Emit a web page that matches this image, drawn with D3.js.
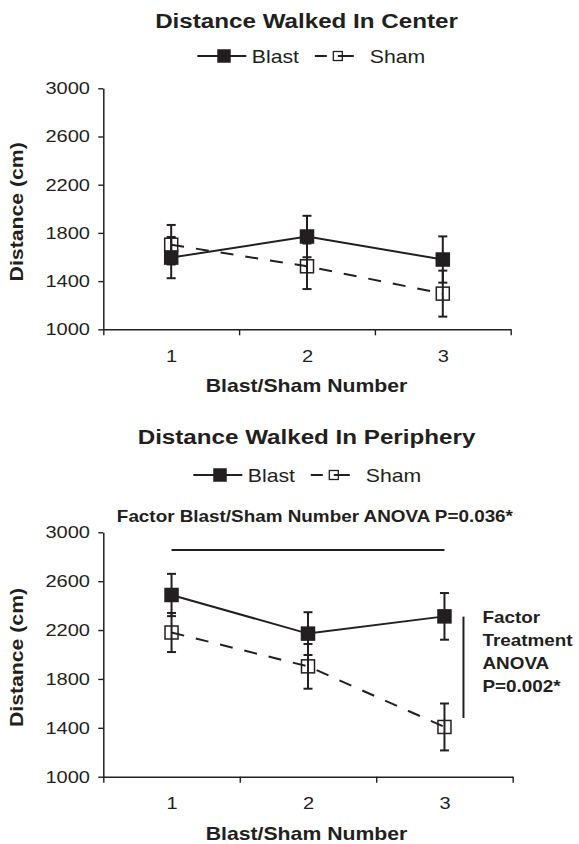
<!DOCTYPE html>
<html>
<head>
<meta charset="utf-8">
<script src="https://cdn.jsdelivr.net/npm/d3@7"></script>
<style>
  html, body { margin: 0; padding: 0; background: #fff; }
</style>
</head>
<body>
<div id="chart"></div>
<script>
// values (cm)
const sessions = [1, 2, 3];
const centerBlast = [1595, 1770, 1579];
const centerBlastErr = [171, 172, 192];
const centerSham = [1702, 1523, 1296];
const centerShamErr = [164, 189, 191];
const periphBlast = [2487, 2171, 2312];
const periphBlastErr = [173, 175, 191];
const periphSham = [2180, 1903, 1407];
const periphShamErr = [160, 183, 192];
const yTicks = [1000, 1400, 1800, 2200, 2600, 3000];
const seriesNames = ["Blast", "Sham"];
const sessionAnova = "Factor Blast/Sham Number ANOVA P=0.036*";
const sessionBarLevel = 2855;
const treatmentAnova = ["Factor", "Treatment", "ANOVA", "P=0.002*"];
const treatmentBarRange = [2310, 1480];

const INK = "#231f20";
const FONT = "'Liberation Sans', Arial, Helvetica, sans-serif";
const SX = 1.18; // the figure's type is a bit wider than Arial

const W = 579, H = 844;

const svg = d3.select("#chart").append("svg")
    .attr("width", W)
    .attr("height", H)
    .style("font-family", FONT);

svg.append("rect").attr("width", W).attr("height", H).attr("fill", "#fff");

function label(g, x, y, str, o = {}) {
    return g.append("text")
        .attr("transform", `translate(${x},${y})` + (o.rotate ? ` rotate(${o.rotate})` : "") + ` scale(${SX},1)`)
        .attr("text-anchor", o.anchor || "middle")
        .style("font-size", (o.size || 17) + "px")
        .style("font-weight", o.bold ? "bold" : "normal")
        .attr("fill", INK)
        .text(str);
}

const panels = [
    {
        title: "Distance Walked In Center",
        blast: centerBlast, blastErr: centerBlastErr,
        sham: centerSham, shamErr: centerShamErr,
        top: 88.3, bottom: 329.3, left: 103.3, right: 510.7,
        titleY: 28, legendY: 56, legendX: 197.3
    },
    {
        title: "Distance Walked In Periphery",
        blast: periphBlast, blastErr: periphBlastErr,
        sham: periphSham, shamErr: periphShamErr,
        top: 532.3, bottom: 776.7, left: 103.3, right: 512.7,
        titleY: 443.5, legendY: 475, legendX: 193.3,
        anova: true
    }
];

panels.forEach(p => {
    const g = svg.append("g");

    const x = d3.scaleLinear().domain([0.5, 3.5]).range([p.left, p.right]);
    const y = d3.scaleLinear().domain([1000, 3000]).range([p.bottom, p.top]);

    // title
    label(g, 306.5, p.titleY, p.title, {size: 20.5, bold: true});

    // legend
    const lg = g.append("g").attr("transform", `translate(${p.legendX},${p.legendY})`);
    lg.append("line").attr("x1", 0).attr("x2", 49).attr("y1", 0).attr("y2", 0)
        .attr("stroke", INK).attr("stroke-width", 2);
    lg.append("rect").attr("x", 26.7 - 6.75).attr("y", -6.75).attr("width", 13.5).attr("height", 13.5)
        .attr("fill", INK);
    label(lg, 54.5, 6.5, seriesNames[0], {size: 18, anchor: "start"});
    const sx0 = 117.5;
    lg.append("line").attr("x1", sx0).attr("x2", sx0 + 39).attr("y1", 0).attr("y2", 0)
        .attr("stroke", INK).attr("stroke-width", 2)
        .attr("stroke-dasharray", "12,11,16");
    lg.append("rect").attr("x", sx0 + 18.5).attr("y", -4.5).attr("width", 9).attr("height", 9)
        .attr("fill", "none").attr("stroke", INK).attr("stroke-width", 1.3);
    label(lg, sx0 + 55, 6.5, seriesNames[1], {size: 18, anchor: "start"});

    // y axis
    const ya = g.append("g")
        .attr("transform", `translate(${p.left},0)`)
        .call(d3.axisLeft(y).tickValues(yTicks).tickSize(5).tickSizeOuter(0).tickPadding(8).tickFormat(d3.format("d")));
    ya.select(".domain").attr("stroke", INK).attr("stroke-width", 1.5);
    ya.selectAll(".tick line").attr("stroke", INK).attr("stroke-width", 1.4);
    ya.selectAll(".tick text")
        .attr("x", -13.3 / SX)
        .attr("transform", `scale(${SX},1)`)
        .attr("fill", INK)
        .style("font-family", FONT)
        .style("font-size", "17px");

    // x axis: tick marks between sessions, labels under each session
    const xa = g.append("g")
        .attr("transform", `translate(0,${p.bottom})`)
        .call(d3.axisBottom(x).tickValues([0.5, 1.5, 2.5, 3.5]).tickSize(6).tickSizeOuter(0).tickFormat(""));
    xa.select(".domain").attr("stroke", INK).attr("stroke-width", 1.5);
    xa.selectAll(".tick line").attr("stroke", INK).attr("stroke-width", 1.4);

    const xl = g.append("g")
        .attr("transform", `translate(0,${p.bottom})`)
        .call(d3.axisBottom(x).tickValues(sessions).tickSize(0).tickPadding(20.5).tickFormat(d3.format("d")));
    xl.select(".domain").remove();
    xl.selectAll(".tick text")
        .attr("transform", `scale(${SX},1)`)
        .attr("fill", INK)
        .style("font-family", FONT)
        .style("font-size", "17px");

    // axis titles
    label(g, 306.5, p.bottom + 63, "Blast/Sham Number", {size: 18, bold: true});
    label(g, 22.5, (p.top + p.bottom) / 2 + 3, "Distance (cm)", {size: 18, bold: true, rotate: -90});

    // series lines
    const line = d3.line().x((d, i) => x(sessions[i])).y(d => y(d));
    g.append("path").datum(p.sham).attr("d", line)
        .attr("fill", "none").attr("stroke", INK).attr("stroke-width", 2)
        .attr("stroke-dasharray", "13,12");
    g.append("path").datum(p.blast).attr("d", line)
        .attr("fill", "none").attr("stroke", INK).attr("stroke-width", 2);

    // error bars
    function errorBars(vals, errs) {
        const cap = 4.5;
        sessions.forEach((s, i) => {
            const cx = x(s), y0 = y(vals[i] - errs[i]), y1 = y(vals[i] + errs[i]);
            g.append("line").attr("x1", cx).attr("x2", cx).attr("y1", y0).attr("y2", y1)
                .attr("stroke", INK).attr("stroke-width", 2);
            [y0, y1].forEach(yy => {
                g.append("line").attr("x1", cx - cap).attr("x2", cx + cap).attr("y1", yy).attr("y2", yy)
                    .attr("stroke", INK).attr("stroke-width", 2);
            });
        });
    }
    errorBars(p.sham, p.shamErr);
    errorBars(p.blast, p.blastErr);

    // markers
    g.selectAll(".sham-pt").data(p.sham).enter().append("rect")
        .attr("class", "sham-pt")
        .attr("x", (d, i) => x(sessions[i]) - 6.5)
        .attr("y", d => y(d) - 6.5)
        .attr("width", 13).attr("height", 13)
        .attr("fill", "none").attr("stroke", INK).attr("stroke-width", 1.5);
    g.selectAll(".blast-pt").data(p.blast).enter().append("rect")
        .attr("class", "blast-pt")
        .attr("x", (d, i) => x(sessions[i]) - 7.25)
        .attr("y", d => y(d) - 7.25)
        .attr("width", 14.5).attr("height", 14.5)
        .attr("fill", INK);

    if (p.anova) {
        label(g, 314.9, 521.7, sessionAnova, {size: 16, bold: true});
        g.append("line")
            .attr("x1", x(1)).attr("x2", x(3))
            .attr("y1", y(sessionBarLevel)).attr("y2", y(sessionBarLevel))
            .attr("stroke", INK).attr("stroke-width", 2);
        const bx = x(3) + 19;
        g.append("line")
            .attr("x1", bx).attr("x2", bx)
            .attr("y1", y(treatmentBarRange[0])).attr("y2", y(treatmentBarRange[1]))
            .attr("stroke", INK).attr("stroke-width", 2);
        treatmentAnova.forEach((t, i) => {
            label(g, x(3) + 38, 622.7 + i * 23.2, t, {size: 16, bold: true, anchor: "start"});
        });
    }
});
</script>
</body>
</html>
